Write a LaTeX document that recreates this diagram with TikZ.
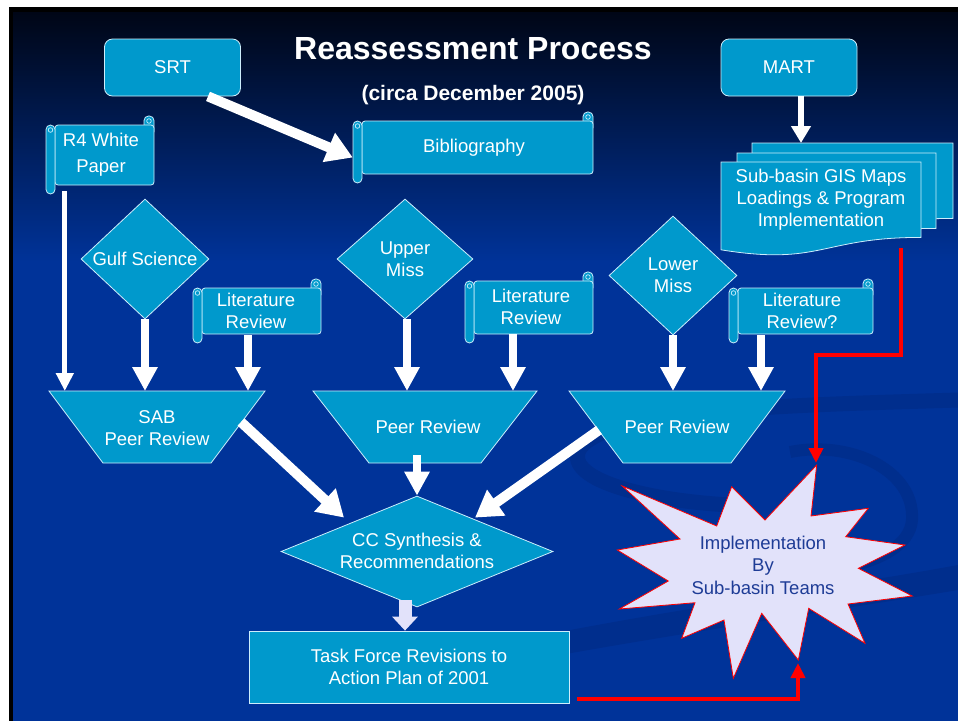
\documentclass[tikz,border=0pt]{standalone}
\usepackage{fontspec}
\setmainfont{Liberation Sans}
\usetikzlibrary{shapes.geometric,arrows.meta,calc,fit}
\definecolor{nodefill}{RGB}{0,153,204}
\definecolor{edgecol}{RGB}{205,238,252}
\definecolor{bgblue}{RGB}{0,51,153}
\definecolor{bgtop}{RGB}{0,6,22}
\definecolor{swooshcol}{RGB}{0,40,128}
\definecolor{lav}{RGB}{226,226,250}
\definecolor{startxt}{RGB}{30,60,150}
\newcommand{\drawscroll}[5]{%
  \draw[shp, rounded corners=4.5pt] (#3-10,#2) rectangle (#3,#2+20);
  \draw[shp, rounded corners=3pt] (#1+9,#2+9) rectangle (#3,#4-9);
  \draw[shp, rounded corners=4.5pt] (#1,#2+9) rectangle (#1+9,#4);
  \draw[edgecol, line width=0.7pt] (#1+4.5,#2+14) circle (2.3pt);
  \draw[edgecol, line width=0.7pt] (#3-5,#2+5) circle (2.3pt);
  \path (#1,#2) coordinate (#5-nw) (#3,#4) coordinate (#5-se);
  \node[fit=(#5-nw)(#5-se), inner sep=0pt] (#5) {};
}
\newcommand{\docshape}[4]{%
  \draw[shp] (#1,#2) -- (#3,#2) -- (#3,#2+0.802*#4)
    .. controls ({(#1+#3)/2},#2+0.802*#4) and ({(#1+#3)/2},#2+1.107*#4) .. (#1,#2+0.934*#4) -- cycle;
}
\newcommand{\trap}[2]{% name, offset
  \draw[shp] (#1.north west) -- (#1.north east) -- ([xshift=-#2pt]#1.south east) -- ([xshift=#2pt]#1.south west) -- cycle;
}
\begin{document}
\begin{tikzpicture}[x=1pt,y=-1pt,
  shp/.style={fill=nodefill, draw=edgecol, line width=0.8pt},
  lbl/.style={text=white, font=\fontsize{18.5}{22}\selectfont, align=center, inner sep=0pt},
  box/.style={inner sep=0pt, outer sep=0pt},
  warr/.style={draw=white, line width=8pt, -{Triangle[width=24pt,length=24pt]}},
  wsmall/.style={draw=white, line width=6.5pt, -{Triangle[width=19pt,length=17pt]}},
  wthin/.style={draw=white, line width=5pt, -{Triangle[width=17pt,length=18pt]}},
  wthick/.style={draw=white, line width=10pt, -{Triangle[width=30pt,length=26pt]}},
  rarr/.style={draw=red, line width=4.5pt, -{Triangle[width=14pt,length=15pt]}},
  lavarr/.style={draw=lav, line width=13pt, -{Triangle[width=25pt,length=14pt]}},
]
\useasboundingbox (0,0) rectangle (958,721);
% background
\fill[white] (0,0) rectangle (958,721);
\fill[black] (9,7) rectangle (958,721);
\shade[top color=bgtop, bottom color=bgblue] (13,12) rectangle (958,262);
\fill[bgblue] (13,261) rectangle (958,721);
% swooshes
\begin{scope}[opacity=0.45]
\draw[swooshcol, line width=15pt] (958,400) .. controls (800,405) and (610,408) .. (580,448)
  .. controls (562,478) and (640,500) .. (730,505);
\draw[swooshcol, line width=12pt] (790,452) .. controls (850,440) and (915,470) .. (912,520)
  .. controls (910,545) and (880,560) .. (850,566);
\fill[swooshcol] (560,632) .. controls (700,605) and (850,585) .. (958,565) -- (958,590)
  .. controls (850,608) and (700,630) .. (560,655) -- cycle;
\end{scope}

% title
\node[font=\bfseries\fontsize{32}{38}\selectfont, text=white, anchor=base] (title) at (473,59) {Reassessment Process};
\node[font=\bfseries\fontsize{21}{25}\selectfont, text=white, anchor=base] (subtitle) at (473,100) {(circa December 2005)};

% top boxes
\node[shp, rounded corners=8pt, minimum width=136pt, minimum height=57pt, lbl] (srt) at (172.5,67.5) {SRT};
\node[shp, rounded corners=8pt, minimum width=136pt, minimum height=57pt, lbl] (mart) at (789,67.5) {MART};

% scrolls
\drawscroll{46}{116}{154}{194}{r4}
\node[lbl, font=\fontsize{18.5}{26}\selectfont] (r4t) at (101,155) {R4 White\\Paper};
\drawscroll{353}{112}{593}{183}{bib}
\node[lbl] (bibt) at (474,148) {Bibliography};
\drawscroll{193}{279}{321}{343}{lit1}
\node[lbl] (lit1t) at (256,311) {Literature\\Review};
\drawscroll{465}{272}{593}{343}{lit2}
\node[lbl] (lit2t) at (531,307) {Literature\\Review};
\drawscroll{729}{279}{873}{343}{lit3}
\node[lbl] (lit3t) at (802,311) {Literature\\Review?};

% document stack
\docshape{752}{143}{953}{94}
\docshape{737}{153}{936}{94}
\docshape{721}{162}{921}{94}
\path (721,143) coordinate (docs-nw) (953,255) coordinate (docs-se);
\node[fit=(docs-nw)(docs-se), box] (docs) {};
\node[lbl] (docst) at (821,200) {Sub-basin GIS Maps\\Loadings \& Program\\Implementation};

% diamonds
\node[shp, diamond, minimum width=128pt, minimum height=120pt, inner sep=0pt] (gulf) at (145,259) {};
\node[lbl] (gulft) at (145,259) {Gulf Science};
\node[shp, diamond, minimum width=136pt, minimum height=120pt, inner sep=0pt] (upper) at (405,259) {};
\node[lbl] (uppert) at (405,259) {Upper\\Miss};
\node[shp, diamond, minimum width=128pt, minimum height=119pt, inner sep=0pt] (lower) at (673,275.5) {};
\node[lbl] (lowert) at (673,275) {Lower\\Miss};

% trapezoids
\node[box, minimum width=216pt, minimum height=72pt] (sab) at (157,427) {};
\trap{sab}{54}
\node[lbl] (sabt) at (157,428) {SAB\\Peer Review};
\node[box, minimum width=224pt, minimum height=72pt] (mid) at (425,427) {};
\trap{mid}{56}
\node[lbl] (midt) at (428,427) {Peer Review};
\node[box, minimum width=216pt, minimum height=72pt] (right) at (677,427) {};
\trap{right}{54}
\node[lbl] (rightt) at (677,427) {Peer Review};

% CC diamond and task force
\node[shp, diamond, minimum width=272pt, minimum height=111pt, inner sep=0pt] (cc) at (417,551.5) {};
\node[lbl] (cct) at (417,551) {CC Synthesis \&\\Recommendations};
\node[shp, minimum width=320pt, minimum height=72pt, lbl] (task) at (409,667) {Task Force Revisions to\\Action Plan of 2001};

% star
\draw[fill=lav, draw=red, line width=0.8pt] (816.7,465) -- (811,516) -- (868.3,508.3) -- (845.7,536.7) -- (905,545)
  -- (858.3,568.3) -- (912.3,596) -- (848,604) -- (865,643.3) -- (808.7,608.3) -- (798.3,660)
  -- (761.7,613.3) -- (733.3,678.3) -- (724,620) -- (681.7,638.3) -- (695,602.7) -- (619.3,609)
  -- (668.3,581) -- (617.3,550) -- (680,539) -- (622.3,486) -- (716.7,526) -- (731.7,486.7)
  -- (765,520) -- cycle;
\coordinate (startop) at (816,463);
\coordinate (starbot) at (798,663);
\node[text=startxt, font=\fontsize{18.5}{22.5}\selectfont, align=center, inner sep=0pt] (impl) at (763,565) {Implementation\\By\\Sub-basin Teams};

% white arrows
\draw[wthick] ([xshift=35.5pt]srt.south) -- ([yshift=-10pt]bib.west);
\coordinate (marta) at ([xshift=12pt]mart.south);
\draw[wsmall] (marta) -- (marta |- docs.north);
\coordinate (r4a) at ($(r4.south west)+(19,-3)$);
\draw[wthin] (r4a) -- (r4a |- sab.north);
\draw[warr] (gulf.south) -- (gulf.south |- sab.north);
\coordinate (l1a) at ($(lit1.south)+(-9,-8)$);
\draw[warr] (l1a) -- (l1a |- sab.north);
\coordinate (upa) at ([xshift=2pt]upper.south);
\draw[warr] (upa) -- (upa |- mid.north);
\coordinate (l2a) at ($(lit2.south)+(-16,-9)$);
\draw[warr] (l2a) -- (l2a |- mid.north);
\draw[warr] (lower.south) -- (lower.south |- right.north);
\coordinate (l3a) at ($(lit3.south)+(-40,-8)$);
\draw[warr] (l3a) -- (l3a |- right.north);
\draw[wthick] ($(sab.north east)+(-24,31)$) -- ($(cc.north)+(-73,22)$);
\draw[wthick] ($(right.north west)+(30,39)$) -- ($(cc.north)+(58,22)$);
\draw[warr] ($(mid.south)+(-8,-8)$) -- (cc.north);
\draw[lavarr] ($(task.north)+(-4,-31)$) -- ($(task.north)+(-4,0)$);

% red arrows
\coordinate (docred) at ($(docs.south east)+(-52,-7)$);
\draw[rarr] (docred) |- ($(startop)+(0,-108)$) -- (startop);
\coordinate (taskred) at ($(task.east)+(8,32)$);
\draw[rarr] (taskred) -| (starbot);
\end{tikzpicture}
\end{document}
